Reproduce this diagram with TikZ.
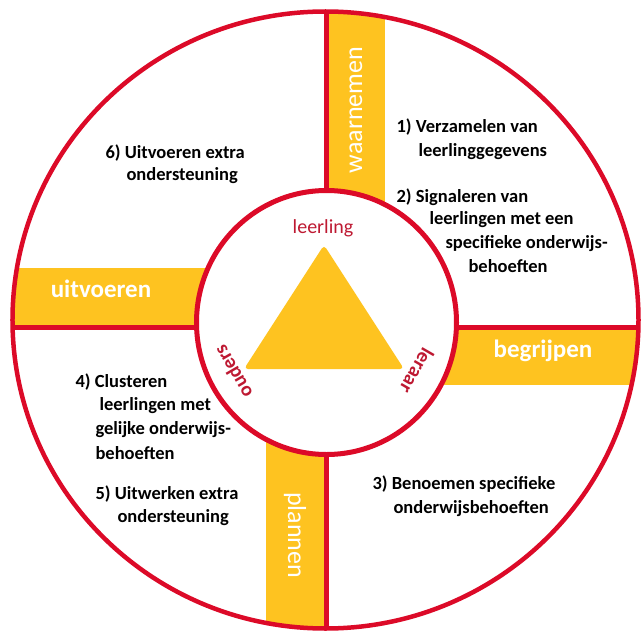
\documentclass[tikz,border=0pt]{standalone}
\usepackage{fontspec}
\setmainfont{Carlito}
\definecolor{ringred}{RGB}{220,10,40}
\definecolor{baryellow}{RGB}{254,195,32}
\definecolor{namered}{RGB}{190,25,50}

\begin{document}
\begin{tikzpicture}[x=1pt,y=1pt,
    stap/.style={anchor=mid west,font=\fontsize{18.5}{22}\selectfont\bfseries},
    fase/.style={white,font=\fontsize{25}{30}\selectfont\bfseries},
    fasedun/.style={white,font=\fontsize{26}{30}\selectfont},
    rol/.style={namered,font=\fontsize{20}{24}\selectfont\bfseries}]
    \useasboundingbox (-325,-310) rectangle (317,322);

    % balken en kruis
    \begin{scope}
        \clip (0.5,2) ellipse [x radius=313pt, y radius=308.5pt];
        \fill[baryellow] (3.5,0) rectangle (60,320);
        \fill[baryellow] (0,-7.5) rectangle (320,-63);
        \fill[baryellow] (-59,0) rectangle (-1.5,-320);
        \fill[baryellow] (0,54) rectangle (-320,-2.5);
        \draw[ringred,line width=5pt] (1,-320)--(1,320);
        \draw[ringred,line width=5pt] (-320,-5)--(320,-5);
    \end{scope}
    \fill[white] (1.5,-0.5) ellipse [x radius=130pt, y radius=132pt];
    \draw[ringred,line width=4.5pt] (0.5,2) ellipse [x radius=313pt, y radius=308.5pt];
    \draw[ringred,line width=5pt] (1.5,-0.5) ellipse [x radius=130pt, y radius=132pt];

    % driehoek
    \fill[baryellow,rounded corners=4pt] (-1,77)--(-81,-47)--(79,-47)--cycle;
    \node[rol,font=\fontsize{20}{24}\selectfont] (leerling) at (-2,94) {leerling};
    \node[rol,rotate=120] (ouders) at (-92,-50) {ouders};
    \node[rol,rotate=240] (leraar) at (92,-49) {leraar};

    % fasen
    \node[fasedun,rotate=90] (waarnemen) at (31,212) {waarnemen};
    \node[fase] (begrijpen) at (218,-29) {begrijpen};
    \node[fasedun,rotate=-90] (plannen) at (-30,-213) {plannen};
    \node[fase] (uitvoeren) at (-224,33) {uitvoeren};

    % stappen
    \node[stap] (s1a) at (68,192) {1) Verzamelen van};
    \node[stap] (s1b) at (90,168) {leerlinggegevens};
    \node[stap] (s2a) at (68,122) {2) Signaleren van};
    \node[stap] (s2b) at (101,100) {leerlingen met een};
    \node[stap] (s2c) at (117,76) {specifieke onderwijs-};
    \node[stap] (s2d) at (140,52) {behoeften};
    \node[stap] (s3a) at (44,-165) {3) Benoemen specifieke};
    \node[stap] (s3b) at (65,-189) {onderwijsbehoeften};
    \node[stap] (s4a) at (-253,-63) {4) Clusteren};
    \node[stap] (s4b) at (-229,-86) {leerlingen met};
    \node[stap] (s4c) at (-233,-110) {gelijke onderwijs-};
    \node[stap] (s4d) at (-233,-135) {behoeften};
    \node[stap] (s5a) at (-233,-175) {5) Uitwerken extra};
    \node[stap] (s5b) at (-211,-198) {ondersteuning};
    \node[stap] (s6a) at (-223,166) {6) Uitvoeren extra};
    \node[stap] (s6b) at (-202,144) {ondersteuning};
\end{tikzpicture}
\end{document}
